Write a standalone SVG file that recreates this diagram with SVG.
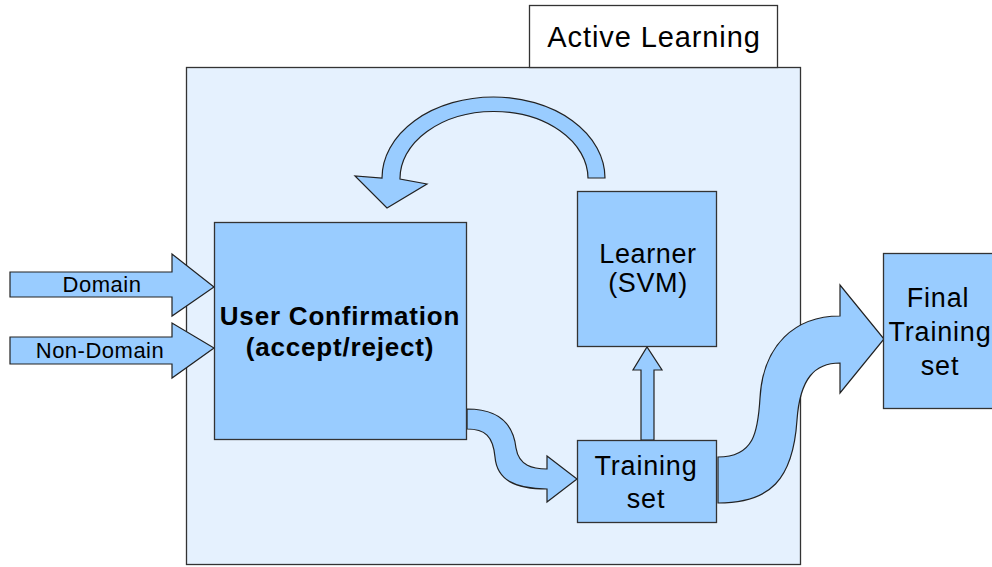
<svg xmlns="http://www.w3.org/2000/svg" width="992" height="567" viewBox="0 0 992 567">
<style>
.blk{fill:#99ccff;stroke:#333;stroke-width:1.3}
.arr{fill:#99ccff;stroke:#222;stroke-width:1.2;stroke-linejoin:miter}
.t{font-family:"Liberation Sans",Arial,sans-serif;fill:#000;text-anchor:middle}
</style>
<rect x="0" y="0" width="992" height="567" fill="#fff"/>
<g id="active-learning">
<rect x="186.5" y="67.5" width="614" height="497" fill="#e5f1fe" stroke="#333" stroke-width="1.3"/>
<rect x="529.5" y="5.5" width="248" height="62" fill="#fff" stroke="#333" stroke-width="1.3"/>
<text class="t" x="654" y="47" font-size="29" letter-spacing="0.9">Active Learning</text>
</g>
<g id="connectors">
<path class="arr" d="M10,272 L172,272 L172,254 L214,287 L172,316 L172,297 L10,297 Z"/>
<path class="arr" d="M10,337 L172,337 L172,323 L214,348 L172,378 L172,364 L10,364 Z"/>
<path class="arr" d="M605,178 A111.5,81 0 0 0 382,178 L355,176 L387,208 L427,184 L400,179 A94,67 0 0 1 588,178 Z"/>
<path class="arr" d="M467,409 C505,409 514,430 516,448 C519,466 533,469 547,469 L547,456 L577,479 L547,502 L547,489 C515,489 497,480 495,457 C493,436 485,429 467,429 Z"/>
<path class="arr" d="M641,440 L641,370 L633,370 L647,347 L662,370 L654,370 L654,440 Z"/>
<path class="arr" d="M718,457 C754,457 758,432 760,398 C763,345 795,316 840,316 L840,285 L884,339 L840,393 L840,363 C815,363 800,378 797,420 C793,480 770,503 718,503 Z"/>
</g>
<g id="domain-label"><text class="t" x="102" y="292" font-size="22" letter-spacing="0.5">Domain</text></g>
<g id="nondomain-label"><text class="t" x="100" y="358" font-size="22" letter-spacing="0.5">Non-Domain</text></g>
<g id="user-confirmation">
<rect class="blk" x="214.5" y="222.5" width="252" height="217"/>
<text class="t" x="340" y="325" font-size="26" font-weight="bold" letter-spacing="0.8">User Confirmation</text>
<text class="t" x="340" y="356" font-size="26" font-weight="bold" letter-spacing="0.8">(accept/reject)</text>
</g>
<g id="learner">
<rect class="blk" x="577.5" y="191.5" width="139" height="155"/>
<text class="t" x="648" y="263" font-size="27" letter-spacing="0.6">Learner</text>
<text class="t" x="648" y="292" font-size="27" letter-spacing="0.6">(SVM)</text>
</g>
<g id="training-set">
<rect class="blk" x="577.5" y="440.5" width="139" height="82"/>
<text class="t" x="646" y="475" font-size="27" letter-spacing="0.8">Training</text>
<text class="t" x="646" y="508" font-size="27" letter-spacing="0.8">set</text>
</g>
<g id="final-training-set">
<rect class="blk" x="883.5" y="253.5" width="120" height="155"/>
<text class="t" x="938" y="307" font-size="27" letter-spacing="0.8">Final</text>
<text class="t" x="940" y="341" font-size="27" letter-spacing="0.8">Training</text>
<text class="t" x="940" y="375" font-size="27" letter-spacing="0.8">set</text>
</g>
</svg>
